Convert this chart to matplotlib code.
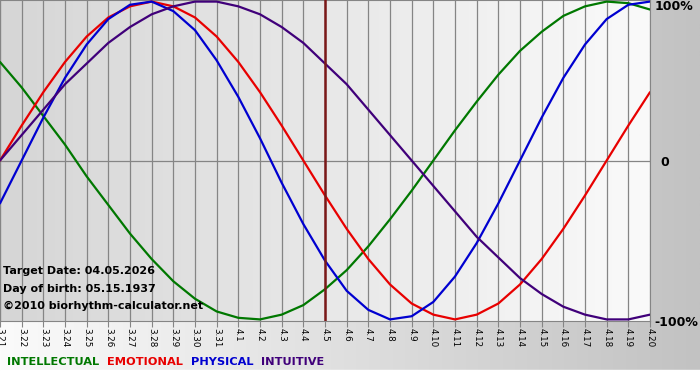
import matplotlib
matplotlib.use('Agg')
import matplotlib.pyplot as plt
import numpy as np
from matplotlib.colors import LinearSegmentedColormap

# day labels along the bottom (3.21 .. 4.20)
days = ['3.21', '3.22', '3.23', '3.24', '3.25', '3.26', '3.27', '3.28', '3.29', '3.30', '3.31',
        '4.1', '4.2', '4.3', '4.4', '4.5', '4.6', '4.7', '4.8', '4.9', '4.10',
        '4.11', '4.12', '4.13', '4.14', '4.15', '4.16', '4.17', '4.18', '4.19', '4.20']

# daily values (-1 .. 1)
intellectual = [0.62, 0.46, 0.28, 0.10, -0.10, -0.28, -0.46, -0.62, -0.76, -0.87, -0.95,
                -0.99, -1.00, -0.97, -0.91, -0.81, -0.69, -0.54, -0.37, -0.19, 0.00,
                0.19, 0.37, 0.54, 0.69, 0.81, 0.91, 0.97, 1.00, 0.99, 0.95]
emotional = [0.00, 0.22, 0.43, 0.62, 0.78, 0.90, 0.97, 1.00, 0.97, 0.90, 0.78,
             0.62, 0.43, 0.22, 0.00, -0.22, -0.43, -0.62, -0.78, -0.90, -0.97,
             -1.00, -0.97, -0.90, -0.78, -0.62, -0.43, -0.22, 0.00, 0.22, 0.43]
physical = [-0.27, 0.00, 0.27, 0.52, 0.73, 0.89, 0.98, 1.00, 0.94, 0.82, 0.63,
            0.40, 0.14, -0.14, -0.40, -0.63, -0.82, -0.94, -1.00, -0.98, -0.89,
            -0.73, -0.52, -0.27, 0.00, 0.27, 0.52, 0.73, 0.89, 0.98, 1.00]
intuitive = [0.00, 0.16, 0.32, 0.48, 0.61, 0.74, 0.84, 0.92, 0.97, 1.00, 1.00,
             0.97, 0.92, 0.84, 0.74, 0.61, 0.48, 0.32, 0.16, 0.00, -0.16,
             -0.32, -0.48, -0.61, -0.74, -0.84, -0.92, -0.97, -1.00, -1.00, -0.97]

series_names = ['INTELLECTUAL', 'EMOTIONAL', 'PHYSICAL', 'INTUITIVE']
series_colors = ['#007800', '#e80000', '#0000d0', '#40007a']
target_index = 15  # 4.5
info_lines = ['Target Date: 04.05.2026', 'Day of birth: 05.15.1937', '\u00a92010 biorhythm-calculator.net']

W, H = 700, 380
fig = plt.figure(figsize=(W / 100, H / 100), dpi=100)

# background of the whole picture: white on the left, grey on the right
bg = fig.add_axes([0, 0, 1, 1])
bg_cmap = LinearSegmentedColormap.from_list('bg', ['#fbfbfb', '#c2c2c2'])
bg.imshow(np.linspace(0, 1, 256).reshape(1, -1), cmap=bg_cmap, aspect='auto', extent=[0, 1, 0, 1])
bg.add_patch(plt.Rectangle((0, 0), 1, 10 / H, color='white'))
bg.set_xlim(0, 1)
bg.set_ylim(0, 1)
bg.axis('off')

# plot area
plot_h = 321
ax = fig.add_axes([0, 1 - plot_h / H, 650 / W, plot_h / H])
x = np.arange(len(days))
ylim = 1.01
ax_cmap = LinearSegmentedColormap.from_list('ax', ['#d6d6d6', '#fafafa'])
ax.imshow(np.linspace(0, 1, 256).reshape(1, -1), cmap=ax_cmap, aspect='auto',
          extent=[0, len(days) - 1, -ylim, ylim], zorder=0)
ax.set_xlim(0, len(days) - 1)
ax.set_ylim(-ylim, ylim)

# grid
for xi in x:
    ax.axvline(xi, color='#858585', lw=0.9, zorder=1)
ax.axhline(0, color='#858585', lw=0.9, zorder=1)

# curves
for vals, col in zip([intellectual, emotional, physical, intuitive], series_colors):
    ax.plot(x, vals, color=col, lw=1.6, zorder=3, solid_joinstyle='round', solid_capstyle='round')

ax.axvline(target_index, color='#7a1818', lw=1.8, zorder=4)

ax.set_xticks(x)
ax.set_xticklabels(days, rotation=270, fontsize=6.3, color='black')
ax.tick_params(axis='x', length=4, color='#858585', pad=1)
ax.set_yticks([])
for s in ax.spines.values():
    s.set_color('#858585')
    s.set_linewidth(0.8)

# right side labels
fig.text(655 / W, 1 - 6 / H, '100%', fontsize=9, fontweight='bold', va='center', ha='left')
fig.text(660 / W, 1 - 162 / H, '0', fontsize=9, fontweight='bold', va='center', ha='left')
fig.text(654 / W, 1 - 322 / H, '-100%', fontsize=9, fontweight='bold', va='center', ha='left')

# info text in the lower left of the plot
for i, line in enumerate(info_lines):
    fig.text(3 / W, 1 - (271 + 17.5 * i) / H, line, fontsize=8, fontweight='bold', va='center', ha='left')

# legend words
legend_x = [7, 107, 191, 261]
for name, col, lx in zip(series_names, series_colors, legend_x):
    fig.text(lx / W, 1 - 362 / H, name, fontsize=8.2, fontweight='bold', color=col, va='center', ha='left')

fig.savefig('out.png', dpi=100)
